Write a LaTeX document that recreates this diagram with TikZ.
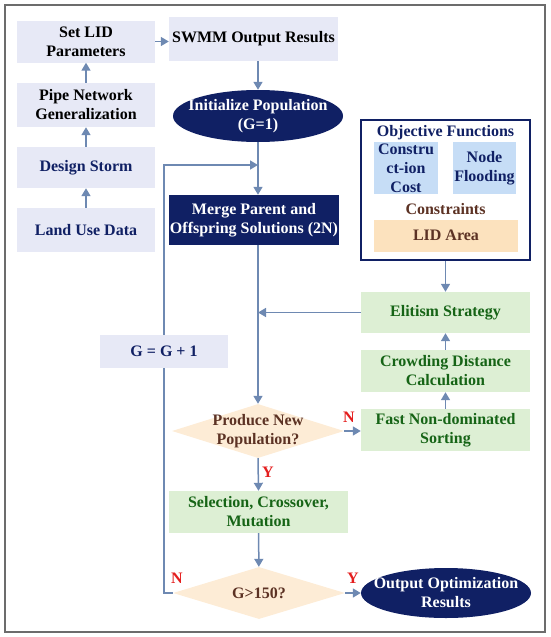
\documentclass[tikz,border=0pt]{standalone}
\usepackage{fontspec}
\setmainfont{Liberation Serif}
\usetikzlibrary{shapes.geometric, arrows.meta}

\definecolor{navy}{RGB}{16,32,100}
\definecolor{lavender}{RGB}{231,233,246}
\definecolor{steel}{RGB}{110,137,178}
\definecolor{palegreen}{RGB}{221,239,212}
\definecolor{darkgreen}{RGB}{22,100,22}
\definecolor{paleblue}{RGB}{198,221,246}
\definecolor{peach}{RGB}{252,226,190}
\definecolor{cream}{RGB}{253,236,214}
\definecolor{rust}{RGB}{92,50,36}
\definecolor{flagred}{RGB}{228,30,30}

\tikzstyle{base}=[inner sep=0pt, align=center, font=\fontsize{16}{19}\selectfont\bfseries]
\tikzstyle{prep}=[base, fill=lavender, minimum width=138pt]
\tikzstyle{navybox}=[base, fill=navy, text=white]
\tikzstyle{gabox}=[base, fill=palegreen, text=darkgreen, minimum width=169pt, minimum height=42pt]
\tikzstyle{terminal}=[ellipse, fill=navy, inner sep=0pt]
\tikzstyle{decision}=[diamond, fill=cream, inner sep=0pt, minimum width=172pt]
\tikzstyle{arrow}=[line width=1.5pt, steel, -{Triangle[length=8pt, width=9pt]}]
\tikzstyle{line}=[line width=1.5pt, steel]
\tikzstyle{yn}=[base, text=flagred]

\begin{document}
\begin{tikzpicture}[x=1pt, y=-1pt]
      \useasboundingbox (0,0) rectangle (550,637);
      \draw[line width=1.2pt, gray!85!black] (5,5) rectangle (545,632);

      % preparation
      \node[prep, minimum height=42pt] (setlid) at (86,41.5) {Set LID\\Parameters};
      \node[prep, minimum height=44pt] (pipe) at (86,105) {Pipe Network\\Generalization};
      \node[prep, minimum height=41pt, text=navy] (storm) at (86,167.5) {Design Storm};
      \node[prep, minimum height=44pt, text=navy] (land) at (86,230) {Land Use Data};
      \node[prep, minimum width=169pt, minimum height=44pt] (swmm) at (253.5,39) {SWMM Output Results};

      % main loop
      \node[terminal, minimum width=170pt, minimum height=52pt] (init) at (258,116) {};
      \node[base, text=white] (inittxt) at (init) {Initialize Population\\(G=1)};
      \node[navybox, minimum width=170pt, minimum height=50pt] (merge) at (254,220) {Merge Parent and\\Offspring Solutions (2N)};
      \node[prep, minimum width=128pt, minimum height=33pt, text=navy] (ginc) at (164,351.5) {G = G + 1};
      \node[decision, minimum height=54pt] (pnp) at (258,431) {};
      \node[base, text=rust] (pnptxt) at (pnp) {Produce New\\Population?};
      \node[gabox, minimum width=179pt] (sel) at (258.5,512) {Selection, Crossover,\\Mutation};
      \node[decision, minimum height=52pt] (gt) at (259,593) {};
      \node[base, text=rust] (gttxt) at (gt) {G>150?};
      \node[terminal, minimum width=170pt, minimum height=50pt] (out) at (446,593) {};
      \node[base, text=white] (outtxt) at (out) {Output Optimization\\Results};
      \coordinate (fb) at (258,165);

      % objectives and sorting
      \node[draw=navy, line width=1.5pt, minimum width=169pt, minimum height=140pt] (objbox) at (445.5,190) {};
      \node[base, text=navy] (objtitle) at (445.5,133) {Objective Functions};
      \node[base, fill=paleblue, text=navy, minimum width=64pt, minimum height=52pt] (cost) at (406,168) {Constru\\ct-ion\\Cost};
      \node[base, fill=paleblue, text=navy, minimum width=63pt, minimum height=52pt] (flood) at (484.5,168) {Node\\Flooding};
      \node[base, text=rust] (constr) at (445.5,209) {Constraints};
      \node[base, fill=peach, text=rust, minimum width=144pt, minimum height=32pt] (lidarea) at (446,235.5) {LID Area};
      \node[gabox, minimum height=41pt] (elite) at (445.5,312.5) {Elitism Strategy};
      \node[gabox] (crowd) at (445.5,371) {Crowding Distance\\Calculation};
      \node[gabox] (fast) at (445.5,430) {Fast Non-dominated\\Sorting};

      % yes / no
      \node[yn] (ylab1) at (268,472) {Y};
      \node[yn] (nlab1) at (349,417) {N};
      \node[yn] (nlab2) at (177,578) {N};
      \node[yn] (ylab2) at (353,578) {Y};

      \draw[arrow] (land) to (storm);
      \draw[arrow] (storm) to (pipe);
      \draw[arrow] (pipe) to (setlid);
      \draw[arrow] (setlid.east) to (setlid.east -| swmm.west);
      \draw[arrow] (swmm.south -| init.north) to (init.north);
      \draw[arrow] (init.south) to (init.south |- merge.north);
      \draw[arrow] (merge.south -| pnp.north) to (pnp.north);
      \draw[arrow] (elite.west) to (elite.west -| pnp.north);
      \draw[arrow] (objbox.south) to (elite.north);
      \draw[arrow] (fast) to (crowd);
      \draw[arrow] (crowd) to (elite);
      \draw[arrow] (pnp.east) to (pnp.east -| fast.west);
      \draw[arrow] (pnp.south) to (sel.north);
      \draw[arrow] (sel) to (gt);
      \draw[arrow] (gt.east) to (out.west);
      \draw[line] (gt.west) -| (ginc.south);
      \draw[arrow] (ginc.north) |- (fb);
    \end{tikzpicture}
\end{document}
